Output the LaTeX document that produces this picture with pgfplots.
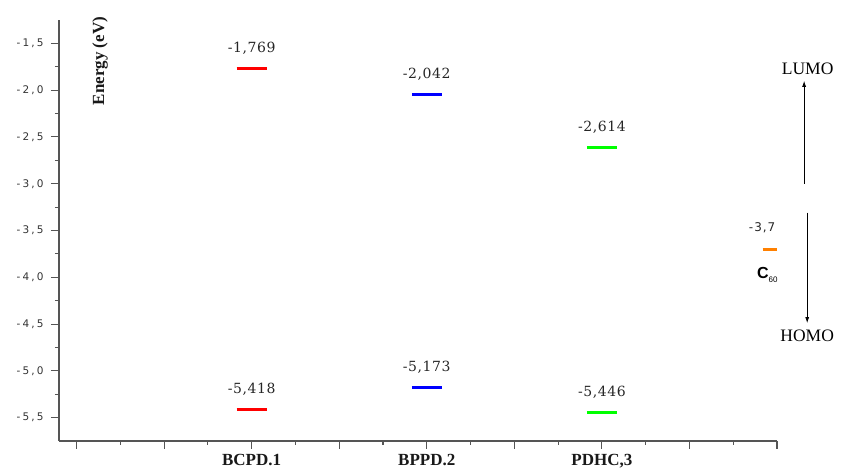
\documentclass[border=0pt]{standalone}
\usepackage{pgfplots}
\pgfplotsset{compat=1.18}
\usepackage{fontspec}
\setmainfont{Liberation Serif}
\setsansfont{Liberation Sans}
\newfontfamily\tickfont[LetterSpace=20]{DejaVu Sans}
\newfontfamily\smallfont[LetterSpace=8]{DejaVu Sans}
\newfontfamily\valfont[LetterSpace=4]{DejaVu Serif}
\usetikzlibrary{arrows.meta}
\definecolor{axgray}{HTML}{555555}
\definecolor{lumoorange}{HTML}{FF8000}
\definecolor{brightgreen}{HTML}{00FF00}
\begin{document}
\begin{tikzpicture}[x=1pt,y=1pt]
\path[use as bounding box] (0,0) rectangle (841,470);
\begin{axis}[
  at={(59pt,29pt)}, anchor=south west,
  scale only axis, width=718pt, height=421pt,
  xmin=0.8, xmax=9, ymin=-5.75, ymax=-1.25,
  axis x line*=bottom, axis y line*=left,
  axis line style={-, draw=axgray, line width=1.2pt},
  tick align=outside,
  major tick length=8pt, minor tick length=4pt,
  every tick/.style={draw=axgray, line width=1.1pt},
  xtick={1,2,3,4,5,6,7,8,9},
  xticklabels={,,BCPD.1,,BPPD.2,,{PDHC,3},,},
  minor x tick num=1,
  ytick={-5.5,-5,-4.5,-4,-3.5,-3,-2.5,-2,-1.5},
  minor y tick num=1,
  xticklabel style={font=\fontsize{17}{17}\selectfont\bfseries, text=black!90, yshift=-2pt},
  yticklabel style={font=\tickfont\fontsize{10.5}{10.5}\selectfont, text=black!80, xshift=-4pt},
  /pgf/number format/.cd, use comma, fixed, fixed zerofill, precision=1, assume math mode=true,
  /pgfplots/.cd,
  clip=false,
]
% LUMO levels
\addplot[red, line width=3pt] coordinates {(2.83,-1.769) (3.17,-1.769)};
\addplot[blue, line width=3pt] coordinates {(4.83,-2.042) (5.17,-2.042)};
\addplot[brightgreen, line width=3pt] coordinates {(6.83,-2.614) (7.17,-2.614)};
% HOMO levels
\addplot[red, line width=3pt] coordinates {(2.83,-5.418) (3.17,-5.418)};
\addplot[blue, line width=3pt] coordinates {(4.83,-5.173) (5.17,-5.173)};
\addplot[brightgreen, line width=3pt] coordinates {(6.83,-5.446) (7.17,-5.446)};
% C60
\addplot[lumoorange, line width=3pt] coordinates {(8.835,-3.7) (9.005,-3.7)};

\begin{scope}[every node/.style={font=\valfont\fontsize{14}{14}\selectfont, text=black!85, anchor=base}]
\node at (axis cs:3,-1.769) [yshift=16pt] {-1,769};
\node at (axis cs:5,-2.042) [yshift=16pt] {-2,042};
\node at (axis cs:7,-2.614) [yshift=16pt] {-2,614};
\node at (axis cs:3,-5.418) [yshift=16pt] {-5,418};
\node at (axis cs:5,-5.173) [yshift=16pt] {-5,173};
\node at (axis cs:7,-5.446) [yshift=16pt] {-5,446};
\end{scope}
\node[anchor=base, font=\smallfont\fontsize{12}{12}\selectfont, text=black!85] at (axis cs:8.83,-3.7) [yshift=18pt] {-3,7};
\node[anchor=base west, inner sep=0pt] at (axis cs:8.92,-3.7) [xshift=-13pt, yshift=-29pt]
  {\sffamily\bfseries\fontsize{16}{16}\selectfont C\raisebox{-4pt}{\mdseries\fontsize{8}{8}\selectfont 60}};
\node[rotate=90, font=\bfseries\fontsize{17}{17}\selectfont, text=black!90] at (axis cs:1.27,-1.69) {Energy (eV)};
% arrows and labels
\node[font=\fontsize{17.5}{17.5}\selectfont] at (axis cs:9.35,-1.77) {LUMO};
\node[font=\fontsize{17.5}{17.5}\selectfont] at (axis cs:9.345,-4.63) {HOMO};
\draw[-{Latex[length=6pt,width=4pt]}, line width=0.8pt] (axis cs:9.31,-3.0) -- (axis cs:9.31,-1.90);
\draw[-{Latex[length=6pt,width=4pt]}, line width=0.8pt] (axis cs:9.345,-3.31) -- (axis cs:9.345,-4.49);
\end{axis}
\end{tikzpicture}
\end{document}
